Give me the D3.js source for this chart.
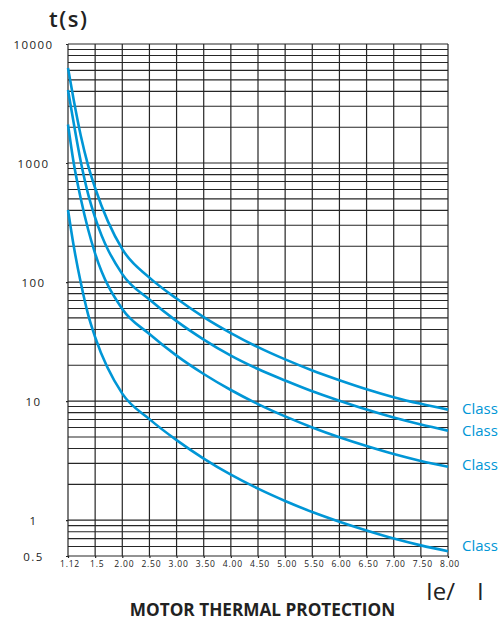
<!DOCTYPE html>
<html>
<head>
<meta charset="utf-8">
<script src="https://cdn.jsdelivr.net/npm/d3@7"></script>
<style>
  html, body { margin: 0; padding: 0; background: #fff; }
  svg { display: block; }
  text { font-family: "Open Sans", "Noto Sans", sans-serif; fill: #222; }
</style>
</head>
<body>
<svg id="chart" width="500" height="618"></svg>
<script>
// Current ratio ticks (evenly spaced along the axis)
const xTicks = [1.12, 1.5, 2, 2.5, 3, 3.5, 4, 4.5, 5, 5.5, 6, 6.5, 7, 7.5, 8];
const xTickLabels = ["1.12", "1.5", "2.00", "2.50", "3.00", "3.50", "4.00", "4.50",
                     "5.00", "5.50", "6.00", "6.50", "7.00", "7.50", "8.00"];

// Trip-time sample points
const xSamples = [1.12, 1.2, 1.3, 1.4, 1.5, 2, 2.5, 3, 3.5, 4, 4.5, 5, 5.5, 6, 6.5, 7, 7.5, 8];

// Trip time in seconds for each trip class
const class30  = [6285, 3384, 1686, 962, 617, 189, 109, 72.7, 50.8, 37.3, 28.4, 22.4, 18.1, 15.0, 12.6, 10.8, 9.49, 8.48];
const class20  = [4106, 2168, 1020, 554, 348, 116.7, 71.3, 47.0, 32.9, 24.1, 18.6, 14.9, 12.1, 10.08, 8.50, 7.28, 6.36, 5.65];
const class10  = [2106, 1000, 498, 279, 173.6, 59.3, 36.6, 24.1, 16.9, 12.4, 9.44, 7.44, 6.01, 4.97, 4.19, 3.59, 3.14, 2.81];
const class10A = [403, 200.7, 98.1, 53.8, 34.5, 11.56, 7.06, 4.70, 3.29, 2.41, 1.84, 1.45, 1.17, 0.970, 0.818, 0.700, 0.614, 0.549];

const seriesNames = ["Class 30", "Class 20", "Class 10", "Class 10A"];
const seriesValues = [class30, class20, class10, class10A];

// Time axis
const yTickValues = [0.5, 1, 10, 100, 1000, 10000];
const yTickLabels = ["0.5", "1", "10", "100", "1000", "10000"];

const plotLeft = 68, plotRight = 448, plotTop = 44, plotBottom = 556;
const blue = "#0096d6";
const gridColor = "#262626";

const svg = d3.select("#chart");

const x = d3.scaleLinear()
  .domain(xTicks)
  .range(xTicks.map((d, i) => plotLeft + i * (plotRight - plotLeft) / (xTicks.length - 1)));

const y = d3.scaleLog().domain([0.5, 10000]).range([plotBottom, plotTop]);

// Logarithmic grid: every 1..9 step in each decade
const gridVals = [];
for (let e = -1; e <= 4; e++) {
  for (let k = 1; k <= 9; k++) {
    const v = k * Math.pow(10, e);
    if (v >= 0.5 - 1e-9 && v <= 10000 + 1e-9) gridVals.push(v);
  }
}

const grid = svg.append("g").attr("class", "grid");
grid.selectAll("line.h").data(gridVals).join("line")
  .attr("class", "h")
  .attr("x1", plotLeft).attr("x2", plotRight)
  .attr("y1", d => y(d)).attr("y2", d => y(d))
  .attr("stroke", gridColor).attr("stroke-width", 1.1);

grid.selectAll("line.v").data(xTicks).join("line")
  .attr("class", "v")
  .attr("x1", d => x(d)).attr("x2", d => x(d))
  .attr("y1", plotTop).attr("y2", plotBottom)
  .attr("stroke", gridColor).attr("stroke-width", 1.2);

// Left axis: short ticks, labels centred in the margin
const yAxis = svg.append("g")
  .attr("transform", `translate(${plotLeft},0)`)
  .call(d3.axisLeft(y)
    .tickValues(yTickValues)
    .tickFormat((d, i) => yTickLabels[i])
    .tickSize(2)
    .tickPadding(0));
yAxis.select(".domain").remove();
yAxis.selectAll(".tick line").attr("stroke", gridColor).attr("stroke-width", 1.1);
yAxis.selectAll(".tick text")
  .attr("x", -(plotLeft - 33.5))
  .attr("dy", "0.35em")
  .attr("text-anchor", "middle")
  .style("font-family", '"Open Sans", sans-serif')
  .style("font-size", "11.5px")
  .style("letter-spacing", "1.4px")
  .attr("fill", "#222");

// Bottom axis
const xAxis = svg.append("g")
  .attr("transform", `translate(0,${plotBottom})`)
  .call(d3.axisBottom(x)
    .tickValues(xTicks)
    .tickFormat((d, i) => xTickLabels[i])
    .tickSize(2)
    .tickPadding(0));
xAxis.select(".domain").remove();
xAxis.selectAll(".tick line").attr("stroke", gridColor).attr("stroke-width", 1.2);
xAxis.selectAll(".tick text")
  .attr("y", 11)
  .attr("dy", 0)
  .attr("dx", 1.5)
  .attr("text-anchor", "middle")
  .style("font-family", '"Open Sans", sans-serif')
  .style("font-size", "8.5px")
  .style("letter-spacing", "0.8px")
  .attr("fill", "#222");

// Trip curves
const line = d3.line()
  .x(d => x(d[0]))
  .y(d => y(d[1]))
  .curve(d3.curveMonotoneX);

const series = seriesNames.map((name, i) => ({
  name,
  points: xSamples.map((xv, j) => [xv, seriesValues[i][j]])
}));

svg.append("g").selectAll("path").data(series).join("path")
  .attr("d", d => line(d.points))
  .attr("fill", "none")
  .attr("stroke", blue)
  .attr("stroke-width", 2.6)
  .attr("stroke-linecap", "butt");

// Class labels beside each curve end (the page edge trims them)
const labelNudge = [-1, 0, -2, -5];
svg.append("g").selectAll("text").data(series).join("text")
  .attr("x", plotRight + 14)
  .attr("y", (d, i) => y(d.points[d.points.length - 1][1]) + labelNudge[i])
  .attr("dy", "0.35em")
  .style("font-size", "15px")
  .style("fill", blue)
  .text(d => d.name);

// Axis titles
svg.append("text")
  .attr("x", 49).attr("y", 27)
  .style("font-size", "22px")
  .style("font-weight", 600)
  .style("letter-spacing", "1.5px")
  .text("t(s)");

svg.append("text")
  .attr("x", 426).attr("y", 600)
  .style("font-size", "24px")
  .text("Ie/");
svg.append("text")
  .attr("x", 477).attr("y", 600)
  .style("font-size", "24px")
  .text("I");

svg.append("text")
  .attr("x", 262.5).attr("y", 616)
  .attr("text-anchor", "middle")
  .style("font-size", "17.2px")
  .style("font-weight", 700)
  .text("MOTOR THERMAL PROTECTION");
</script>
</body>
</html>
